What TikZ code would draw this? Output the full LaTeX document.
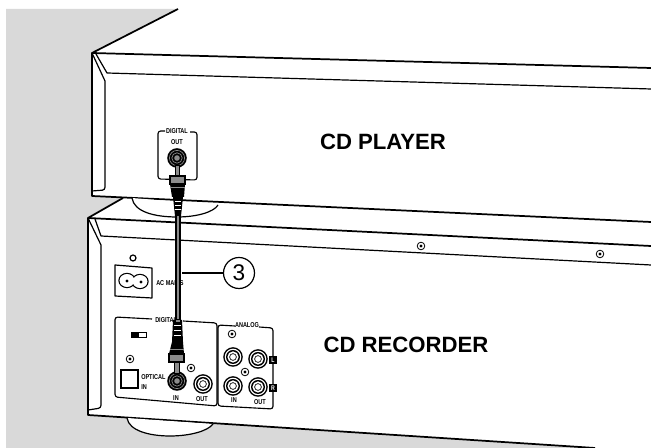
\documentclass[tikz,border=0pt]{standalone}
\usepackage{xcolor}
\usepackage{fontspec}
\setmainfont{Liberation Sans}
\newfontfamily\narrowfont[FakeStretch=0.78]{Liberation Sans}
\usetikzlibrary{positioning, calc}
\definecolor{wallgray}{HTML}{D9D9D9}
\definecolor{plugray}{HTML}{8C8C8C}

% screw head
\newcommand{\screwat}[2]{
    \draw[line width=0.6pt, fill=white] (#1,#2) circle (3.8);
    \fill (#1,#2) circle (1.7);
}
% white RCA socket
\newcommand{\rcaat}[2]{
    \fill (#1,#2) circle (9.8);
    \fill[white] (#1,#2) circle (8.3);
    \fill (#1,#2) circle (7);
    \fill[white] (#1,#2) circle (5.6);
    \draw[line width=0.5pt] (#1,#2) circle (3.4);
}
% dark socket
\newcommand{\darkat}[2]{
    \fill (#1,#2) circle (9.8);
    \foreach \ringr in {7.6,5.2} {\draw[plugray, line width=0.5pt] (#1,#2) circle (\ringr);}
    \fill[plugray] (#1,#2) circle (2.8);
}

\begin{document}
\begin{tikzpicture}[
    x=0.75pt, y=-0.75pt,
    outline/.style={line width=1.3pt, line join=round},
    thinline/.style={line width=0.9pt, line join=round},
    panel/.style={line width=0.85pt, rounded corners=2pt},
    tiny/.style={font=\fontsize{5.3}{6}\narrowfont\bfseries, inner sep=0pt},
    device/.style={font=\fontsize{16.6}{18}\selectfont\bfseries, inner sep=0pt},
    channelmark/.style={fill=black, text=white, font=\fontsize{5}{5}\narrowfont\bfseries, inner sep=0pt, minimum size=5.4pt}
]
\useasboundingbox (0,0) rectangle (651,448);

% wall and floor
\fill[wallgray] (6,9) -- (178,9) -- (92,53) -- (92,196) -- (123,198) -- (88,218) -- (88,415) -- (595,448) -- (6,448) -- cycle;

% CD player
\draw[outline] (178,9) -- (92,53) -- (651,68);
\draw[outline] (92,53) -- (92,196) -- (651,222);
\draw[thinline] (96,54) -- (107,73) -- (651,89);
\draw[thinline] (92,53) -- (105,81) -- (105,186) [rounded corners=2pt] -- (105,190) -- (92,191);
\draw[thinline, fill=white] (132,198) .. controls (134,212) and (155,217) .. (177,217) .. controls (197,217) and (214,212) .. (218,205);

% CD recorder
\draw[outline] (123,198) -- (88,218) -- (651,246);
\draw[outline] (88,218) -- (88,415) -- (595,448);
\draw[thinline] (95,219) -- (101,236) -- (651,265);
\draw[thinline] (88,218) -- (101,245) -- (101,404) [rounded corners=2pt] -- (101,408) -- (88,410);
\draw[thinline, fill=white] (127,418) .. controls (129,431) and (150,436) .. (170,436) .. controls (190,436) and (208,431) .. (213,424);
\screwat{421}{246}
\screwat{600}{254}

% digital out
\draw[panel] (165,131) -- (158,131) -- (158,179) -- (197,180) -- (197,132) -- (190,132);
\node[tiny] (digitalout) at (177,131.5) {DIGITAL};
\node[tiny, below=3.5pt of digitalout] (outlabel) {OUT};
\darkat{177}{158}

% mains inlet
\draw[thinline] (133,258) circle (3);
\draw[thinline] (115,265) -- (152,268) -- (152,298) -- (115,296) -- cycle;
\draw[line width=1pt] (127,280.5) ellipse (8 and 7) (140,281.5) ellipse (8 and 7);
\fill[white] (127,280.5) ellipse (7.4 and 6.4) (140,281.5) ellipse (7.4 and 6.4);
\fill (127,281) circle (1.6) (141,282) circle (1.6);
\node[tiny, anchor=west] (mains) at (156,283) {AC MAINS};

% digital panel
\draw[panel] (152,319) -- (115,317) -- (115,397) -- (217,406) -- (217,323) -- (183,321);
\node[tiny, anchor=west] (digitalin) at (155,320) {DIGITAL};
\fill[white, draw=black, thin] (131,332) rectangle (146,337);
\fill (131,332) rectangle (139,337);
\screwat{130}{359}
\screwat{191}{368}
\draw[line width=0.8pt] (121,370) rectangle (138,388);
\node[tiny, anchor=west, align=left] (optical) at (141,382) {OPTICAL\\[1.5pt]IN};
\darkat{177}{381}
\rcaat{203}{384}
\node[tiny] (inlabel) at (176,398) {IN};
\node[tiny] (outdigital) at (202,399) {OUT};

% analog panel
\draw[panel] (235,326) -- (218,325) -- (218,406) -- (273,409) -- (273,328) -- (259,327);
\node[tiny] (analog) at (247,325.5) {ANALOG};
\screwat{232}{334}
\screwat{245}{372}
\foreach \px/\py in {233/357, 258/359, 233/386, 258/387} {\rcaat{\px}{\py}}
\node[channelmark] (markl) at (273,360) {L};
\node[channelmark] (markr) at (273,388) {R};
\node[tiny] (inanalog) at (234,400) {IN};
\node[tiny] (outanalog) at (260,402) {OUT};

% cable
\coordinate (cabletop) at (178,215);
\coordinate (cablebottom) at (178,322);
\draw[line width=4.6pt] (cabletop) -- (cablebottom);
\draw[plugray, line width=1.2pt] (cabletop) -- (cablebottom);

% upper plug
\draw[fill=plugray, line width=0.6pt] (175,165) rectangle (179,177);
\draw[fill=plugray, line width=0.8pt] (170,176) rectangle (185,184);
\fill (170,184) -- (185,184) -- (184,197) -- (172,197) -- cycle;
\fill[plugray] (170,187) rectangle (185,188.5);
\fill (173,197) -- (183,197) -- (181,216) -- (175,216) -- cycle;
\foreach \ry in {201,205,209} {\draw[white, line width=0.5pt] (175,\ry) -- (181,\ry);}

% lower plug
\fill (173,320) -- (182,320) -- (183,342) -- (172,342) -- cycle;
\foreach \ry in {325,330,335} {\draw[white, line width=0.5pt] (174,\ry) -- (181,\ry);}
\draw[fill=plugray, line width=0.5pt] (175,319) rectangle (180,322);
\fill (172,342) -- (183,342) -- (184,354) -- (169,354) -- cycle;
\fill[plugray] (170,349) rectangle (184,350.5);
\draw[fill=plugray, line width=0.8pt] (169,354) rectangle (184,362);
\draw[fill=plugray, line width=0.6pt] (174,362) rectangle (179,373);

% callout
\node[circle, draw, line width=0.9pt, minimum size=31*0.75pt, inner sep=0pt, font=\fontsize{17}{18}\selectfont] (callout) at (239,273) {3};
\coordinate (leadstart) at (182,273);
\draw[line width=1.1pt] (leadstart) -- (callout);

% labels
\node[device] (player) at (383,142) {CD PLAYER};
\node[device] (recorder) at (406,345) {CD RECORDER};

\end{tikzpicture}
\end{document}
